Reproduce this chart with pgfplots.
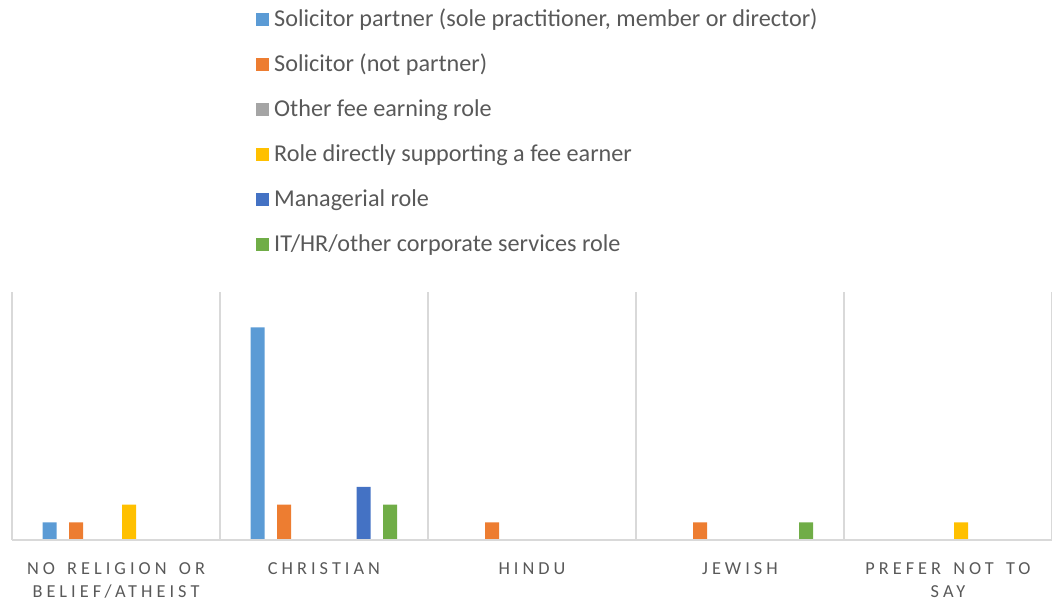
\documentclass[border=0pt]{standalone}
\usepackage{pgfplots}
\pgfplotsset{compat=1.18}
\usepackage{fontspec}
\setmainfont{Carlito}
\newfontfamily\catfont[LetterSpace=22, WordSpace=1.5]{Carlito}
\definecolor{c1}{HTML}{5B9BD5}
\definecolor{c2}{HTML}{ED7D31}
\definecolor{c3}{HTML}{A5A5A5}
\definecolor{c4}{HTML}{FFC000}
\definecolor{c5}{HTML}{4472C4}
\definecolor{c6}{HTML}{70AD47}
\definecolor{txt}{HTML}{595959}
\definecolor{gridc}{HTML}{D9D9D9}
\begin{document}
\begin{tikzpicture}[x=1pt,y=1pt]
\useasboundingbox (0,0) rectangle (1052,604);
\begin{axis}[
  at={(12pt,64pt)}, anchor=south west,
  scale only axis, width=1040pt, height=248pt,
  xmin=-0.5, xmax=4.5, ymin=0, ymax=14,
  ybar=12.5pt, bar width=14pt,
  axis on top,
  hide y axis,
  axis x line*=bottom,
  x axis line style={gridc, line width=1.3pt, -},
  xtick={0,...,4},
  xticklabels={{NO RELIGION OR\\BELIEF/ATHEIST},{CHRISTIAN},{HINDU},{JEWISH},{PREFER NOT TO\\SAY}},
  major tick length=0pt, minor tick length=0pt,
  minor xtick={-0.5,0.5,1.5,2.5,3.5,4.5},
  xminorgrids, minor grid style={gridc, line width=1.3pt},
  xticklabel style={align=center, anchor=north, yshift=-19pt, text=txt,
    font=\catfont\fontsize{18.3}{23}\selectfont},
  legend style={at={(0.2346,2.128)}, anchor=north west, draw=none, fill=none,
    inner sep=0pt, text=txt, font=\fontsize{24.2}{28}\selectfont,
    row sep=26pt, column sep=5pt,
    nodes={inner sep=0pt, text height=14pt, text depth=5pt}},
  legend cell align=left,
  legend image code/.code={\path[#1] (0pt,-4pt) rectangle (13pt,9pt);},
]
\addplot[draw=none, fill=c1] coordinates {(0,1) (1,12) (2,0) (3,0) (4,0)};
\addplot[draw=none, fill=c2] coordinates {(0,1) (1,2) (2,1) (3,1) (4,0)};
\addplot[draw=none, fill=c3] coordinates {(0,0) (1,0) (2,0) (3,0) (4,0)};
\addplot[draw=none, fill=c4] coordinates {(0,2) (1,0) (2,0) (3,0) (4,1)};
\addplot[draw=none, fill=c5] coordinates {(0,0) (1,3) (2,0) (3,0) (4,0)};
\addplot[draw=none, fill=c6] coordinates {(0,0) (1,2) (2,0) (3,1) (4,0)};
\legend{{Solicitor partner (sole practitioner, member or director)},
  {Solicitor (not partner)},
  {Other fee earning role},
  {Role directly supporting a fee earner},
  {Managerial role},
  {IT/HR/other corporate services role}}
\end{axis}
\end{tikzpicture}
\end{document}
